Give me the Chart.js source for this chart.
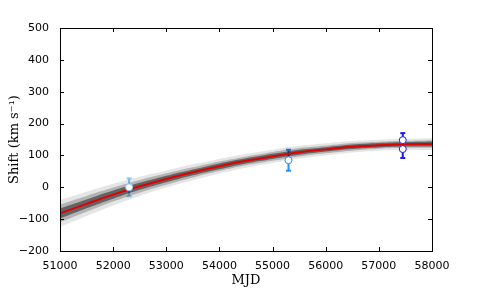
<!DOCTYPE html>
<html>
<head>
<meta charset="utf-8">
<script src="https://cdn.jsdelivr.net/npm/chart.js@4/dist/chart.umd.min.js"></script>
<style>
  html, body { margin: 0; padding: 0; background: #fff; }
  #wrap { width: 480px; height: 288px; }
</style>
</head>
<body>
<div id="wrap"><canvas id="chart"></canvas></div>
<script>
// model curve (best fit) sampled along MJD
const mjd = [51000, 51500, 52000, 52500, 53000, 53500, 54000, 54500, 55000, 55500, 56000, 56500, 57000, 57500, 58000];
const fitShift = [-82, -52, -23, 3, 26, 47, 66, 83, 97, 110, 119, 127, 132, 135, 136];
// spread of the posterior sample curves around the fit
const outerSpread = [42, 38, 34, 30, 27, 25, 23, 22, 21, 20, 19, 18, 17, 17, 19];
const midSpread = [28, 25, 22, 20, 18, 16, 15, 14, 14, 13, 12, 12, 11, 11, 12];
const innerSpread = [16, 14, 13, 11, 10, 9, 9, 8, 8, 8, 7, 7, 7, 7, 8];

// measurements
const obsMjd = [52300, 55300, 57450, 57450];
const obsShift = [0, 85, 148, 120];
const obsErr = [28, 33, 22, 28];
const obsColors = ["#87c8f0", "#1e90ff", "#1a1aee", "#1a1aee"];

const yTicks = [-200, -100, 0, 100, 200, 300, 400, 500];
const xTicks = [51000, 52000, 53000, 54000, 55000, 56000, 57000, 58000];

const band = (spread, sign) => mjd.map((x, i) => ({ x: x, y: fitShift[i] + sign * spread[i] }));

const datasets = [];
const layers = [
  [outerSpread, "rgba(0,0,0,0.10)"],
  [midSpread, "rgba(0,0,0,0.22)"],
  [innerSpread, "rgba(0,0,0,0.45)"],
];
layers.forEach(([spread, col]) => {
  datasets.push({ data: band(spread, 1), borderWidth: 0, pointRadius: 0, fill: false, order: 5, tension: 0.4 });
  datasets.push({ data: band(spread, -1), borderWidth: 0, pointRadius: 0, fill: "-1", backgroundColor: col, order: 5, tension: 0.4 });
});
datasets.push({
  data: mjd.map((x, i) => ({ x: x, y: fitShift[i] })),
  borderColor: "#e00000", borderWidth: 2, pointRadius: 0, fill: false, order: 2, tension: 0.4
});
obsMjd.forEach((x, i) => {
  datasets.push({
    data: [{ x: x, y: obsShift[i] - obsErr[i] }, { x: x, y: obsShift[i] + obsErr[i] }],
    borderColor: obsColors[i], borderWidth: 2,
    pointStyle: "line", pointRadius: 2.5, pointBorderWidth: 2, pointBorderColor: obsColors[i],
    fill: false, order: 8
  });
});
datasets.push({
  data: obsMjd.map((x, i) => ({ x: x, y: obsShift[i] })),
  showLine: false, pointRadius: 3.5, pointBorderWidth: 1,
  pointBackgroundColor: "#ffffff", pointBorderColor: obsColors, order: 1
});

const frame = {
  id: "frame",
  afterDraw(chart) {
    const { ctx, chartArea: a, scales } = chart;
    ctx.save();
    ctx.strokeStyle = "#000";
    ctx.lineWidth = 1;
    ctx.strokeRect(a.left + 0.5, a.top + 0.5, a.right - a.left, a.bottom - a.top);
    ctx.beginPath();
    xTicks.forEach(v => {
      const px = Math.round(scales.x.getPixelForValue(v)) + 0.5;
      ctx.moveTo(px, a.bottom); ctx.lineTo(px, a.bottom - 4);
      ctx.moveTo(px, a.top); ctx.lineTo(px, a.top + 4);
    });
    yTicks.forEach(v => {
      const py = Math.round(scales.y.getPixelForValue(v)) + 0.5;
      ctx.moveTo(a.left, py); ctx.lineTo(a.left + 4, py);
      ctx.moveTo(a.right, py); ctx.lineTo(a.right - 4, py);
    });
    ctx.stroke();
    ctx.restore();
  }
};

const tickFont = { family: "DejaVu Sans", size: 11 };
const titleFont = { family: "DejaVu Serif", size: 13 };

new Chart(document.getElementById("chart"), {
  type: "line",
  data: { datasets: datasets },
  options: {
    responsive: true,
    maintainAspectRatio: false,
    animation: false,
    layout: { padding: { top: 28, right: 48, left: 0, bottom: 0 } },
    plugins: { legend: { display: false }, tooltip: { enabled: false } },
    scales: {
      x: {
        type: "linear", min: 51000, max: 58000,
        afterBuildTicks: s => { s.ticks = xTicks.map(v => ({ value: v })); },
        afterFit: s => { s.height = 37; },
        grid: { display: false },
        border: { display: false },
        ticks: { color: "#000", font: tickFont, padding: 1, maxRotation: 0, callback: v => String(v) },
        title: { display: true, text: "MJD", color: "#000", font: titleFont, padding: { top: 0, bottom: 0 } }
      },
      y: {
        min: -200, max: 500,
        afterBuildTicks: s => { s.ticks = yTicks.map(v => ({ value: v })); },
        afterFit: s => { s.width = 60; },
        grid: { display: false },
        border: { display: false },
        ticks: { color: "#000", font: tickFont, padding: 3, callback: v => String(v).replace("-", "\u2212") },
        title: { display: true, text: "Shift (km s\u207B\u00B9)", color: "#000", font: titleFont, padding: { top: 7, bottom: 0 } }
      }
    }
  },
  plugins: [frame]
});
</script>
</body>
</html>
